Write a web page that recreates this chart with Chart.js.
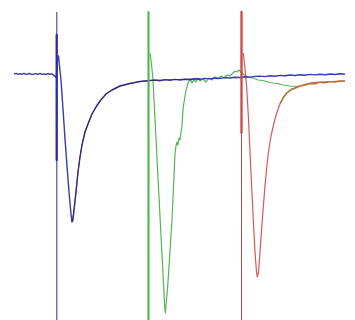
<!DOCTYPE html>
<html>
<head>
<meta charset="utf-8">
<script src="https://cdn.jsdelivr.net/npm/chart.js@4.4.1/dist/chart.umd.min.js"></script>
<style>
html,body{margin:0;padding:0;background:#ffffff;}
#wrap{width:355px;height:320px;}
</style>
</head>
<body>
<div id="wrap"><canvas id="c" width="355" height="320"></canvas></div>
<script>
// time (ms, arbitrary units) and current (pA, arbitrary units)
const blueT = [14,16,18,20,22,24,26,28,30,32,34,36,38,40,42,44,46,48,50,52,54,55.5,56.5,
  57.5,58.5,59.5,61,63,65,67,69,71,72,73,74,76,78,80,82,85,88,92,96,100,106,112,120,130,140,
  150,155,160,165,170,175,180,185,190,195,200,205,210,215,220,225,230,235,240,245,250,255,260,
  265,270,275,280,285,290,295,300,305,310,315,320,325,330,335,340,345];
const blueI = [0,0.6,-0.4,0.3,-0.2,0.7,-0.5,0.2,0.5,-0.6,0.1,0.4,-0.3,0.6,-0.4,0.2,-0.5,0.3,-0.2,0.1,-1.5,-3,-1,
  16,18,8,-6,-35,-65,-92,-118,-140,-148,-146,-136,-118,-98,-83,-71,-58,-50,-40,-33,-27,-20,-16,-12,-9.5,-7.5,
  -6.5,-6,-6.8,-5.6,-6.2,-5.4,-6,-5.2,-5.7,-4.8,-5.2,-4.4,-4.9,-4,-4.4,-3.6,-4,-3.2,-3.5,-2.8,-3.2,-2.4,-2.1,
  -2.6,-1.8,-2.2,-1.4,-1.8,-1,-1.5,-0.8,-1.2,-0.4,-0.9,-0.2,-0.7,0,-0.5,0.2,-0.3];

const blueFitT = [72,74,76,78,80,82,85,88,92,96,100,106,112,120,130,140,150,170,200];
const blueFitI = [-148,-136,-118,-98,-83,-71,-58,-50,-40,-33,-27,-20,-16,-12,-9.5,-7.5,-6.5,-5.8,-4.8];

const greenT = [150,151.5,153,155,157,159,161,163,164.5,165.3,166,168,170,172,173.5,175,176,177,178,179,180,181,182,183,185,187,188.5,
  190,192,194,196,198,200,203,206,209,212,215,218,221,224,227,230,233,235,237,239,241,243,247,253,258,263,268,273,278,283,290,300];
const greenI = [21,10,-6,-45,-84,-123,-162,-200,-230,-239,-232,-208,-177,-146,-112,-80,-72,-68,-71,-64,-66,-58,-52,-35,-22,-12,-8,
  -5,-9,-6,-8,-4,-7,-5,-8,-4,-6,-3,-5,-2,-4,-1,-2,1,3,2,4,2,0,-3,-4,-6,-6.5,-8,-9,-9.5,-11,-12,-12.5];

const redT = [243.3,245,246.7,248.5,250,251.7,253.5,255,256.5,257.3,258.5,260,261.5,263.3,265,266.5,268.3,271,274,276.7,280,283,286.7,291,296.7,303,310,320,330,345];
const redI = [21,5,-13,-45,-78,-113,-150,-178,-198,-203,-198,-178,-157,-133,-112,-96,-79,-62,-49,-39,-30,-24,-19,-16,-13,-11,-9,-8,-7.5,-7];

const redFitT = [280,283,286.7,291,296.7,300,305,310,315,320,325,330,335,340,345];
const redFitI = [-30,-24,-19,-15.5,-13.5,-12,-11,-9.5,-9.8,-8.4,-8.8,-7.6,-8,-7,-7.3];

// stimulus artifacts
const stimT = [56.7, 148.5, 241.5];
const stimTop = 62;
const stimBottom = -246;
const blueStimThick = [39, -86];
const redStimThick = [62, -59];

const pts = (t, v) => t.map((x, i) => ({x: x, y: v[i]}));
const vline = (x, a, b) => [{x: x, y: a}, {x: x, y: b}];

const base = {pointRadius: 0, borderJoinStyle: 'round', tension: 0, fill: false, spanGaps: true};

new Chart(document.getElementById('c'), {
  type: 'line',
  data: {
    datasets: [
      Object.assign({}, base, {data: vline(stimT[2], redStimThick[0], redStimThick[1]), borderColor: '#cf4444', borderWidth: 2.3, order: 1}),
      Object.assign({}, base, {data: vline(stimT[2], stimTop, stimBottom), borderColor: '#a85050', borderWidth: 1, order: 2}),
      Object.assign({}, base, {data: vline(stimT[1], stimTop, stimBottom), borderColor: '#45b545', borderWidth: 2, order: 3}),
      Object.assign({}, base, {data: vline(stimT[0], blueStimThick[0], blueStimThick[1]), borderColor: '#2d2da6', borderWidth: 2.3, order: 4}),
      Object.assign({}, base, {data: vline(stimT[0], stimTop, stimBottom), borderColor: '#6f6fb4', borderWidth: 1, order: 5}),
      Object.assign({}, base, {data: pts(blueFitT, blueFitI), borderColor: 'rgba(60,30,90,0.75)', borderWidth: 1.1, order: 6}),
      Object.assign({}, base, {data: pts(blueT, blueI), borderColor: '#3a3aaa', borderWidth: 1.4, order: 7}),
      Object.assign({}, base, {data: pts(redFitT, redFitI), borderColor: '#b47434', borderWidth: 1.4, order: 8}),
      Object.assign({}, base, {data: pts(redT, redI), borderColor: '#d45858', borderWidth: 1.2, order: 9}),
      Object.assign({}, base, {data: pts(greenT, greenI), borderColor: '#52b652', borderWidth: 1.2, order: 10})
    ]
  },
  options: {
    responsive: false,
    animation: false,
    layout: {padding: 0},
    plugins: {legend: {display: false}, tooltip: {enabled: false}},
    scales: {
      x: {type: 'linear', min: 0, max: 355, display: false},
      y: {type: 'linear', min: -246, max: 74, display: false}
    }
  }
});
</script>
</body>
</html>
